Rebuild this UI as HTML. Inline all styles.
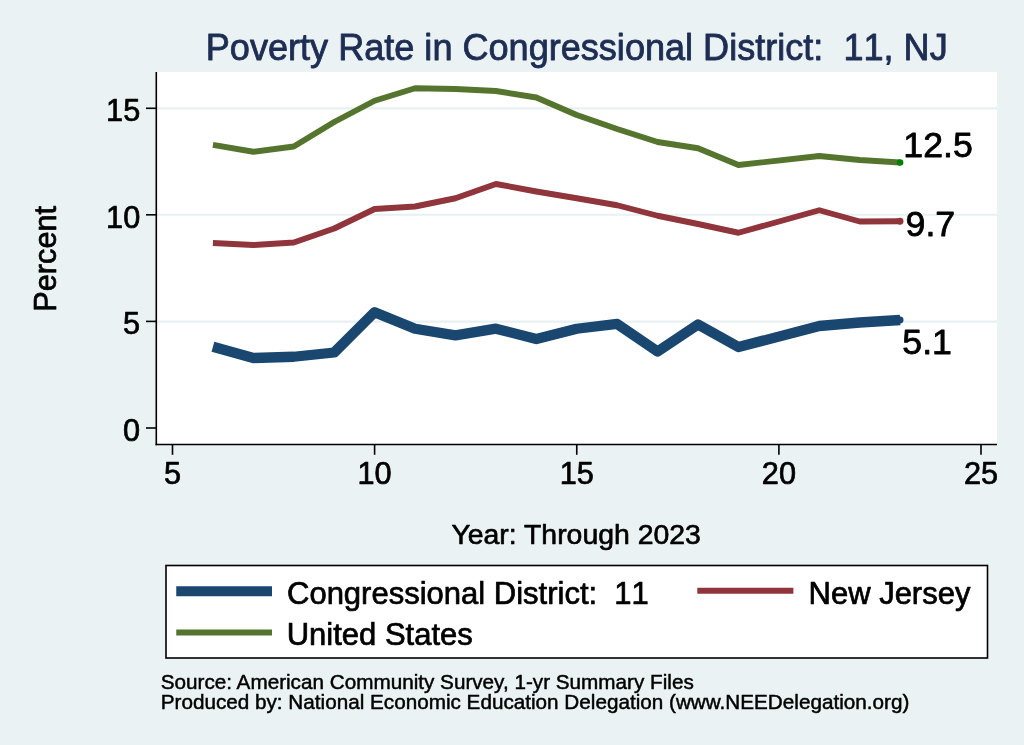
<!DOCTYPE html>
<html><head><meta charset="utf-8"><title>Poverty Rate in Congressional District: 11, NJ</title>
<style>
html,body{margin:0;padding:0;background:#eaf2f3;}
svg{display:block;}
text{font-family:"Liberation Sans",Arial,Helvetica,sans-serif;fill:#000;}
</style></head><body>
<svg width="1024" height="745" viewBox="0 0 1024 745">
<rect x="0" y="0" width="1024" height="745" fill="#eaf2f3"/>
<rect x="156" y="72" width="841" height="372.5" fill="#ffffff"/>
<g stroke="#e8f1f2" stroke-width="2.1">
<line x1="157" x2="997" y1="108.4" y2="108.4"/>
<line x1="157" x2="997" y1="214.8" y2="214.8"/>
<line x1="157" x2="997" y1="321.6" y2="321.6"/>
</g>
<g fill="none" stroke-linejoin="round" stroke-linecap="butt">
<polyline stroke="#1a476f" stroke-width="10.3" points="212.93,346.75 253.35,358.00 293.77,356.75 334.20,352.50 374.62,312.15 415.05,328.75 455.47,335.35 495.90,328.65 536.33,339.10 576.75,328.75 617.17,323.90 657.60,351.60 698.02,324.40 738.45,347.10 819.30,326.00 859.72,322.50 900.15,320.00"/>
<polyline stroke="#90353b" stroke-width="5.9" points="212.93,243.00 253.35,245.00 293.77,242.50 334.20,228.50 374.62,209.00 415.05,206.50 455.47,198.25 495.90,184.00 536.33,191.50 576.75,198.25 617.17,205.25 657.60,215.75 698.02,224.00 738.45,232.75 819.30,210.25 859.72,221.50 900.15,221.25"/>
<polyline stroke="#55752f" stroke-width="5.9" points="212.93,144.90 253.35,151.75 293.77,146.50 334.20,122.00 374.62,100.75 415.05,88.25 455.47,89.00 495.90,91.00 536.33,97.50 576.75,115.00 617.17,129.00 657.60,142.00 698.02,148.25 738.45,165.00 819.30,156.00 859.72,160.00 900.15,162.50"/>
</g>
<circle cx="900.1" cy="320" r="3.4" fill="#1a476f"/>
<circle cx="900.1" cy="221.25" r="3.4" fill="#90353b"/>
<circle cx="900.1" cy="162.5" r="3.3" fill="#008000"/>
<g stroke="#000" stroke-width="1.6" fill="none">
<line x1="156.3" x2="156.3" y1="72" y2="445.3"/>
<line x1="155.5" x2="997" y1="444.5" y2="444.5"/>
<line x1="146" x2="156" y1="108.3" y2="108.3"/>
<line x1="146" x2="156" y1="214.8" y2="214.8"/>
<line x1="146" x2="156" y1="321.4" y2="321.4"/>
<line x1="146" x2="156" y1="428" y2="428"/>
<line x1="172.5" x2="172.5" y1="444.5" y2="454.8"/>
<line x1="374.6" x2="374.6" y1="444.5" y2="454.8"/>
<line x1="576.75" x2="576.75" y1="444.5" y2="454.8"/>
<line x1="778.9" x2="778.9" y1="444.5" y2="454.8"/>
<line x1="981" x2="981" y1="444.5" y2="454.8"/>
</g>
<rect x="166" y="565.5" width="821.5" height="92.5" fill="#fff" stroke="#000" stroke-width="1.6"/>
<line x1="176.25" x2="272" y1="591.25" y2="591.25" stroke="#1a476f" stroke-width="10.2"/>
<line x1="697.3" x2="793.4" y1="590.8" y2="590.8" stroke="#90353b" stroke-width="5.9"/>
<line x1="176.25" x2="272" y1="632.5" y2="632.5" stroke="#55752f" stroke-width="5.9"/>
<text id="title" transform="translate(576.75,59.8)" font-size="36.08" text-anchor="middle" style="fill:#1e2d53;white-space:pre;font-kerning:none;" stroke="#1e2d53" stroke-width="0.83" stroke-linejoin="round" xml:space="preserve">Poverty Rate in Congressional District:  11, NJ</text>
<text id="y15" transform="translate(140.2,121.2)" font-size="30.7" text-anchor="end" style="fill:#000;white-space:pre;" stroke="#000" stroke-width="0.71" stroke-linejoin="round" xml:space="preserve">15</text>
<text id="y10" transform="translate(140.2,227.7)" font-size="30.7" text-anchor="end" style="fill:#000;white-space:pre;" stroke="#000" stroke-width="0.71" stroke-linejoin="round" xml:space="preserve">10</text>
<text id="y5" transform="translate(140.2,334.3)" font-size="30.7" text-anchor="end" style="fill:#000;white-space:pre;" stroke="#000" stroke-width="0.71" stroke-linejoin="round" xml:space="preserve">5</text>
<text id="y0" transform="translate(140.2,440.9)" font-size="30.7" text-anchor="end" style="fill:#000;white-space:pre;" stroke="#000" stroke-width="0.71" stroke-linejoin="round" xml:space="preserve">0</text>
<text id="ylab" transform="translate(55.7,258.8) rotate(-90)" font-size="30.7" text-anchor="middle" style="fill:#000;white-space:pre;" stroke="#000" stroke-width="0.71" stroke-linejoin="round" xml:space="preserve">Percent</text>
<text id="x5" transform="translate(172.5,484.4)" font-size="30.7" text-anchor="middle" style="fill:#000;white-space:pre;" stroke="#000" stroke-width="0.71" stroke-linejoin="round" xml:space="preserve">5</text>
<text id="x10" transform="translate(374.62,484.4)" font-size="30.7" text-anchor="middle" style="fill:#000;white-space:pre;" stroke="#000" stroke-width="0.71" stroke-linejoin="round" xml:space="preserve">10</text>
<text id="x15" transform="translate(576.75,484.4)" font-size="30.7" text-anchor="middle" style="fill:#000;white-space:pre;" stroke="#000" stroke-width="0.71" stroke-linejoin="round" xml:space="preserve">15</text>
<text id="x20" transform="translate(778.88,484.4)" font-size="30.7" text-anchor="middle" style="fill:#000;white-space:pre;" stroke="#000" stroke-width="0.71" stroke-linejoin="round" xml:space="preserve">20</text>
<text id="x25" transform="translate(981.0,484.4)" font-size="30.7" text-anchor="middle" style="fill:#000;white-space:pre;" stroke="#000" stroke-width="0.71" stroke-linejoin="round" xml:space="preserve">25</text>
<text id="xlab" transform="translate(576.1,543.75)" font-size="28.4" text-anchor="middle" style="fill:#000;white-space:pre;" stroke="#000" stroke-width="0.65" stroke-linejoin="round" xml:space="preserve">Year: Through 2023</text>
<text id="l125" transform="translate(903.3,156.9)" font-size="35.7" text-anchor="start" style="fill:#000;white-space:pre;" stroke="#000" stroke-width="0.82" stroke-linejoin="round" xml:space="preserve">12.5</text>
<text id="l97" transform="translate(905.6,235.9)" font-size="35.7" text-anchor="start" style="fill:#000;white-space:pre;" stroke="#000" stroke-width="0.82" stroke-linejoin="round" xml:space="preserve">9.7</text>
<text id="l51" transform="translate(902.3,354.2)" font-size="35.7" text-anchor="start" style="fill:#000;white-space:pre;" stroke="#000" stroke-width="0.82" stroke-linejoin="round" xml:space="preserve">5.1</text>
<text id="lg1" transform="translate(287.0,603.8)" font-size="31" text-anchor="start" style="fill:#000;white-space:pre;font-kerning:none;" stroke="#000" stroke-width="0.71" stroke-linejoin="round" xml:space="preserve">Congressional District:  11</text>
<text id="lg2" transform="translate(808.5,603.8)" font-size="31" text-anchor="start" style="fill:#000;white-space:pre;" stroke="#000" stroke-width="0.71" stroke-linejoin="round" xml:space="preserve">New Jersey</text>
<text id="lg3" transform="translate(286.7,644.8)" font-size="31" text-anchor="start" style="fill:#000;white-space:pre;" stroke="#000" stroke-width="0.71" stroke-linejoin="round" xml:space="preserve">United States</text>
<text id="n1" transform="translate(160.7,688.9)" font-size="20.7" text-anchor="start" style="fill:#000;white-space:pre;" stroke="#000" stroke-width="0.48" stroke-linejoin="round" xml:space="preserve">Source: American Community Survey, 1-yr Summary Files</text>
<text id="n2" transform="translate(160.7,708.9)" font-size="20.7" text-anchor="start" style="fill:#000;white-space:pre;" stroke="#000" stroke-width="0.48" stroke-linejoin="round" xml:space="preserve">Produced by: National Economic Education Delegation (www.NEEDelegation.org)</text>
</svg>
</body></html>
